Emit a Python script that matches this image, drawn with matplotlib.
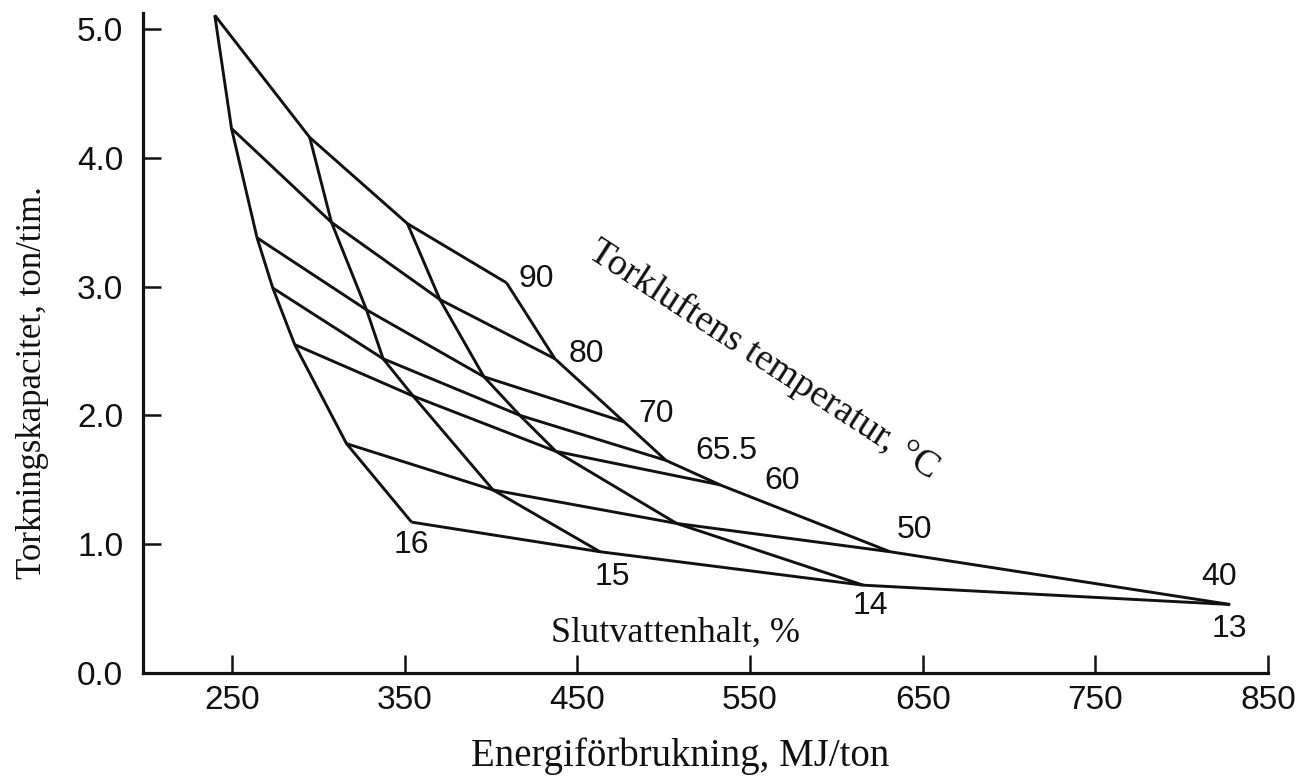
import matplotlib
matplotlib.use("Agg")
import matplotlib.pyplot as plt
import numpy as np

# Drying-air temperature (deg C), one constant-temperature line each
temps = [90, 80, 70, 65.5, 60, 50, 40]
temp_labels = ["90", "80", "70", "65.5", "60", "50", "40"]
# Final moisture content (%), one constant-moisture line each
moist = [16, 15, 14, 13]
moist_labels = ["16", "15", "14", "13"]

# Energy use (MJ/ton) at each temperature, per final moisture
energy_m16 = [240.0, 249.7, 264.5, 273.6, 286.3, 316.3, 354.0]
energy_m15 = [295.0, 307.6, 327.9, 337.5, 354.9, 401.2, 463.1]
energy_m14 = [351.6, 370.4, 395.9, 416.7, 437.6, 507.5, 615.6]
energy_m13 = [409.0, 437.0, 477.0, 501.3, 532.6, 631.1, 828.1]

# Drying capacity (ton/h) at each temperature, per final moisture
cap_m16 = [5.11, 4.23, 3.38, 2.99, 2.55, 1.78, 1.17]
cap_m15 = [4.16, 3.50, 2.82, 2.44, 2.15, 1.42, 0.94]
cap_m14 = [3.49, 2.90, 2.30, 2.00, 1.72, 1.16, 0.68]
cap_m13 = [3.03, 2.44, 1.95, 1.65, 1.46, 0.94, 0.53]

x_ticks = [250, 350, 450, 550, 650, 750, 850]
y_ticks = [0.0, 1.0, 2.0, 3.0, 4.0, 5.0]

E = np.array([energy_m16, energy_m15, energy_m14, energy_m13])  # (moist, temp)
C = np.array([cap_m16, cap_m15, cap_m14, cap_m13])

serif = ["Liberation Serif", "DejaVu Serif"]
sans = ["Liberation Sans", "DejaVu Sans"]
ink = "#111111"

fig = plt.figure(figsize=(12.99, 7.84), dpi=100)
ax = fig.add_axes([0.1099, 0.142, 0.8662, 0.8414])

lw = 2.1
# constant-moisture lines
for i in range(len(moist)):
    ax.plot(E[i], C[i], color=ink, lw=lw, solid_joinstyle="miter", solid_capstyle="butt")
# constant-temperature lines
for j in range(len(temps)):
    ax.plot(E[:, j], C[:, j], color=ink, lw=lw, solid_joinstyle="miter", solid_capstyle="butt")

# temperature labels at the 13 % end of each temperature line
temp_off = [(21.5, 2.7), (22.7, 3.5), (23.0, 5.9), (43.2, 6.8), (45.0, 2.5), (17.3, 16.0), (-7.9, 19.8)]
for j, lab in enumerate(temp_labels):
    ax.annotate(lab, (E[3, j], C[3, j]), xytext=temp_off[j], textcoords="offset points",
                ha="center", va="center", fontsize=23, family=sans, color=ink)

# moisture labels at the 40 deg end of each moisture line
moist_off = [(0, -16.4), (9.0, -18.4), (5.2, -14.8), (-0.4, -18.0)]
for i, lab in enumerate(moist_labels):
    ax.annotate(lab, (E[i, 6], C[i, 6]), xytext=moist_off[i], textcoords="offset points",
                ha="center", va="center", fontsize=23, family=sans, color=ink)

ax.text(507.0, 0.31, "Slutvattenhalt, %", ha="center", va="center",
        fontsize=26, family=serif, color=ink)
ax.text(558.0, 2.43, "Torkluftens temperatur, °C", ha="center", va="center",
        rotation=-33, rotation_mode="anchor", fontsize=27.5, family=serif, color=ink)

ax.set_xlim(198.3, 850)
ax.set_ylim(0, 5.127)
ax.set_xticks(x_ticks)
ax.set_xticklabels([str(v) for v in x_ticks], family=sans, fontsize=24, color=ink)
ax.set_yticks(y_ticks)
ax.set_yticklabels([f"{v:.1f}" for v in y_ticks], family=sans, fontsize=24, color=ink)
ax.tick_params(axis="both", direction="in", length=13, width=1.8, color=ink)
ax.tick_params(axis="y", pad=14)
ax.tick_params(axis="x", pad=9)

for s in ["top", "right"]:
    ax.spines[s].set_visible(False)
for s in ["left", "bottom"]:
    ax.spines[s].set_linewidth(2.3)
    ax.spines[s].set_color(ink)

ax.text(0.478, -0.127, "Energiförbrukning, MJ/ton", transform=ax.transAxes,
        ha="center", va="center", family=serif, fontsize=28, color=ink)
ax.set_ylabel("Torkningskapacitet, ton/tim.", family=serif, fontsize=25, color=ink)
ax.yaxis.set_label_coords(-0.083, 0.44)

fig.savefig("out.png", dpi=100)
